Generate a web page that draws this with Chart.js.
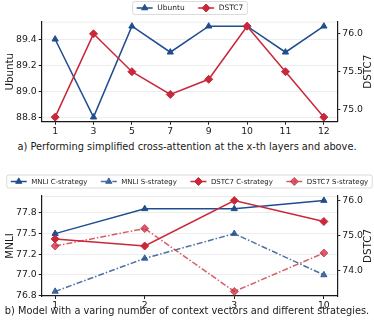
<!DOCTYPE html>
<html>
<head>
<meta charset="utf-8">
<script src="https://cdn.jsdelivr.net/npm/chart.js@4.4.1/dist/chart.umd.min.js"></script>
<style>
  html, body { margin: 0; padding: 0; background: #fff; }
  #wrap { position: relative; width: 374px; height: 329px; overflow: hidden; font-family: 'DejaVu Sans', sans-serif; }
  canvas { position: absolute; left: 0; }
  .cap { position: absolute; left: 0; width: 374px; text-align: center; font-size: 9.8px; line-height: 12px; color: #1a1a1a; white-space: nowrap; }
</style>
</head>
<body>
<div id="wrap">
  <canvas id="layersChart" width="374" height="136" style="top:0"></canvas>
  <div class="cap" style="top:140.7px">a) Performing simplified cross-attention at the x-th layers and above.</div>
  <canvas id="vectorsChart" width="374" height="145" style="top:165px"></canvas>
  <div class="cap" style="top:304.7px">b) Model with a varing number of context vectors and different strategies.</div>
</div>
<script>
// (a) layers
const layerLabels = ['1', '3', '5', '7', '9', '10', '11', '12'];
const ubuntuScores = [89.4, 88.8, 89.5, 89.3, 89.5, 89.5, 89.3, 89.5];
const dstc7Layers = [74.9, 76.0, 75.5, 75.2, 75.4, 76.1, 75.5, 74.9];
const ubuntuTicks = [88.8, 89.0, 89.2, 89.4];
const ubuntuTickLabels = ['88.8', '89.0', '89.2', '89.4'];
const dstc7TicksA = [75.0, 75.5, 76.0];
const dstc7TickLabelsA = ['75.0', '75.5', '76.0'];

// (b) context vectors
const vectorLabels = ['1', '2', '3', '10'];
const mnliC = [77.5, 77.8, 77.8, 77.9];
const mnliS = [76.8, 77.2, 77.5, 77.0];
const dstc7C = [74.9, 74.7, 76.0, 75.4];
const dstc7S = [74.7, 75.2, 73.4, 74.5];
const mnliTicks = [76.75, 77.0, 77.25, 77.5, 77.75];
const mnliTickLabels = ['76.8', '77.0', '77.2', '77.5', '77.8'];
const dstc7TicksB = [74, 75, 76];
const dstc7TickLabelsB = ['74.0', '75.0', '76.0'];

const INK = '#1a1a1a';
const BLUE = '#1f4e8f';
const BLUE_S = 'rgba(31, 78, 143, 0.8)';
const RED = '#c8283a';
const RED_S = 'rgba(200, 40, 58, 0.75)';
const FONT = "'DejaVu Sans', sans-serif";
const DASHDOT = [6, 2, 1.5, 2];

function pts(vals) { return vals.map((v, i) => ({ x: i, y: v })); }

function xAxis(labels, pad, h) {
  return {
    type: 'linear', min: -pad, max: labels.length - 1 + pad,
    afterBuildTicks: s => { s.ticks = labels.map((_, i) => ({ value: i })); },
    afterFit: s => { s.height = h; },
    ticks: { callback: (v, i) => labels[i], color: INK, font: { size: 9.3, family: FONT }, padding: 1, maxRotation: 0, autoSkip: false },
    grid: { drawOnChartArea: false, tickLength: 3, tickColor: INK },
    border: { color: INK, width: 1.2 }
  };
}

function yAxis(pos, min, max, ticks, labels, w, grid, title) {
  return {
    type: 'linear', position: pos, min, max,
    afterBuildTicks: s => { s.ticks = ticks.map(v => ({ value: v })); },
    afterFit: s => { s.width = w; },
    ticks: { callback: (v, i) => labels[i], color: INK, font: { size: 9.3, family: FONT }, padding: 2 },
    grid: { drawOnChartArea: grid, color: 'rgba(0,0,0,0.07)', tickLength: 3, tickColor: INK },
    border: { color: INK, width: 1.2 },
    title: title ? { display: true, text: title, color: INK, font: { size: 10.3, family: FONT }, padding: { top: 4, bottom: 0 } } : { display: false }
  };
}

function series(label, vals, axis, color, style, dash, order) {
  const tri = style === 'triangle';
  return {
    label, data: pts(vals), yAxisID: axis, order,
    borderColor: color, backgroundColor: color, borderWidth: 1.5, borderDash: dash,
    pointStyle: style, pointRadius: tri ? 3.6 : 4, pointBorderWidth: 1,
    pointBackgroundColor: color, pointBorderColor: color, tension: 0
  };
}

// legend box, right axis title, faint top edge
const decor = {
  id: 'decor',
  afterDraw(chart, args, opts) {
    const { ctx, chartArea } = chart;
    ctx.save();
    ctx.strokeStyle = 'rgba(0,0,0,0.08)';
    ctx.lineWidth = 1;
    ctx.beginPath();
    ctx.moveTo(chartArea.left, chartArea.top + 0.5);
    ctx.lineTo(chartArea.right, chartArea.top + 0.5);
    ctx.stroke();

    ctx.fillStyle = INK;
    ctx.font = '10.3px ' + FONT;
    ctx.textAlign = 'center';
    ctx.textBaseline = 'middle';
    ctx.translate(opts.titleX, (chartArea.top + chartArea.bottom) / 2);
    ctx.rotate(-Math.PI / 2);
    ctx.fillText(opts.rightTitle, 0, 0);
    ctx.restore();

    // legend
    const sets = chart.data.datasets;
    const lineLen = 16, gap = 4.5, itemGap = 13.5, pad = 4;
    ctx.save();
    ctx.font = opts.legendFont + 'px ' + FONT;
    const widths = sets.map(d => ctx.measureText(d.label).width);
    const total = pad * 2 + widths.reduce((a, b) => a + b, 0) + sets.length * (lineLen + gap) + itemGap * (sets.length - 1);
    let x = opts.legendX - total / 2;
    const cy = opts.legendY;
    ctx.fillStyle = 'rgba(255,255,255,0.85)';
    ctx.strokeStyle = 'rgba(0,0,0,0.18)';
    ctx.lineWidth = 0.8;
    ctx.beginPath();
    ctx.roundRect(x, cy - 6.5, total, 13, 2);
    ctx.fill();
    ctx.stroke();
    x += pad;
    sets.forEach((d, i) => {
      ctx.strokeStyle = d.borderColor;
      ctx.fillStyle = d.borderColor;
      ctx.lineWidth = 1.5;
      ctx.setLineDash(d.borderDash || []);
      ctx.beginPath();
      ctx.moveTo(x, cy);
      ctx.lineTo(x + lineLen, cy);
      ctx.stroke();
      ctx.setLineDash([]);
      ctx.lineWidth = 1;
      Chart.helpers.drawPoint(ctx, { pointStyle: d.pointStyle, radius: d.pointRadius, borderWidth: 1, rotation: 0 }, x + lineLen / 2, cy);
      x += lineLen + gap;
      ctx.fillStyle = INK;
      ctx.textAlign = 'left';
      ctx.textBaseline = 'middle';
      ctx.fillText(d.label, x, cy + 0.5);
      x += widths[i] + itemGap;
    });
    ctx.restore();
  }
};

Chart.defaults.font.family = FONT;

new Chart(document.getElementById('layersChart'), {
  type: 'line',
  data: {
    datasets: [
      series('Ubuntu', ubuntuScores, 'yL', BLUE, 'triangle', [], 2),
      series('DSTC7', dstc7Layers, 'yR', RED, 'rectRot', [], 1)
    ]
  },
  options: {
    responsive: false, animation: false, devicePixelRatio: 1,
    layout: { padding: { top: 21.7, left: 0, right: 0, bottom: 0 } },
    plugins: {
      legend: { display: false }, tooltip: { enabled: false },
      decor: { rightTitle: 'DSTC7', titleX: 368.5, legendX: 190, legendY: 8, legendFont: 7.5 }
    },
    scales: {
      x: xAxis(layerLabels, 0.35, 14.3),
      yL: yAxis('left', 88.765, 89.535, ubuntuTicks, ubuntuTickLabels, 41.7, true, 'Ubuntu'),
      yR: yAxis('right', 74.84, 76.16, dstc7TicksA, dstc7TickLabelsA, 36.7, false, null)
    }
  },
  plugins: [decor]
});

new Chart(document.getElementById('vectorsChart'), {
  type: 'line',
  data: {
    datasets: [
      series('MNLI C-strategy', mnliC, 'yL', BLUE, 'triangle', [], 4),
      series('MNLI S-strategy', mnliS, 'yL', BLUE_S, 'triangle', DASHDOT, 3),
      series('DSTC7 C-strategy', dstc7C, 'yR', RED, 'rectRot', [], 1),
      series('DSTC7 S-strategy', dstc7S, 'yR', RED_S, 'rectRot', DASHDOT, 2)
    ]
  },
  options: {
    responsive: false, animation: false, devicePixelRatio: 1,
    layout: { padding: { top: 31, left: 0, right: 0, bottom: 0 } },
    plugins: {
      legend: { display: false }, tooltip: { enabled: false },
      decor: { rightTitle: 'DSTC7', titleX: 368.5, legendX: 189.5, legendY: 16.5, legendFont: 7 }
    },
    scales: {
      x: xAxis(vectorLabels, 0.15, 14),
      yL: yAxis('left', 76.745, 77.955, mnliTicks, mnliTickLabels, 41.7, true, 'MNLI'),
      yR: yAxis('right', 73.27, 76.13, dstc7TicksB, dstc7TickLabelsB, 36.7, false, null)
    }
  },
  plugins: [decor]
});
</script>
</body>
</html>
